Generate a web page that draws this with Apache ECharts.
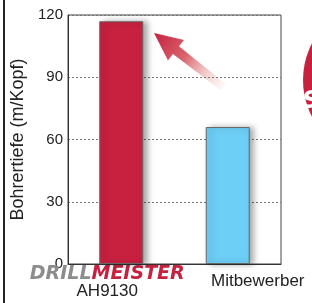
<!DOCTYPE html>
<html>
<head>
<meta charset="utf-8">
<script src="https://cdn.jsdelivr.net/npm/echarts@6/dist/echarts.min.js"></script>
<style>
  html, body { margin: 0; padding: 0; background: #fff; }
  #chart { width: 312px; height: 303px; }
</style>
</head>
<body>
<div id="chart"></div>
<script>
// data
var categories = ['AH9130', 'Mitbewerber'];
var depthValues = [117, 66];
var barColors = ['#c8213f', '#6dcff6'];
var yTicks = { min: 0, max: 120, step: 30 };

var chart = echarts.init(document.getElementById('chart'));

// gradient arrow pointing at the drillmeister bar (decoration)
var arrowFill = new echarts.graphic.LinearGradient(154, 33, 223, 87, [
  { offset: 0, color: '#c8213f' },
  { offset: 0.45, color: '#d9666f' },
  { offset: 1, color: 'rgba(245,215,210,0.2)' }
], true);

chart.setOption({
  animation: false,
  grid: {
    left: 68, right: 31, top: 15, bottom: 39,
    show: true, borderColor: '#444', borderWidth: 1
  },
  xAxis: {
    type: 'category',
    data: categories,
    axisLine: { lineStyle: { color: '#333' } },
    axisTick: { show: false },
    axisLabel: {
      interval: 0,
      hideOverlap: false,
      margin: 3,
      formatter: function (v, i) {
        if (i === 0) return '{da|DRILL}{mb|MEISTER}\n{code|' + v + '}';
        return '{comp|' + v + '}';
      },
      rich: {
        da: { fontFamily: 'DejaVu Sans', fontWeight: 'bold', fontStyle: 'italic', fontSize: 19, color: '#8c8c8c', lineHeight: 15 },
        mb: { fontFamily: 'DejaVu Sans', fontWeight: 'bold', fontStyle: 'italic', fontSize: 19, color: '#c8213f', lineHeight: 15, padding: [0, 28, 0, 0] },
        code: { fontFamily: 'Liberation Sans', fontSize: 17, color: '#222', lineHeight: 19, padding: [0, 28, 0, 0] },
        comp: { fontFamily: 'Liberation Sans', fontSize: 17, color: '#222', lineHeight: 19, padding: [9, 0, 0, 60] }
      }
    }
  },
  yAxis: {
    type: 'value',
    min: yTicks.min, max: yTicks.max, interval: yTicks.step,
    name: 'Bohrertiefe (m/Kopf)',
    nameLocation: 'middle',
    nameGap: 41,
    nameTextStyle: { fontFamily: 'Liberation Sans', fontSize: 18, color: '#222' },
    axisLine: { show: true, lineStyle: { color: '#333' } },
    axisTick: { show: false },
    axisLabel: { margin: 5, fontFamily: 'Liberation Sans', fontSize: 15, color: '#222' },
    splitLine: { lineStyle: { color: '#777', type: [2, 2] } }
  },
  series: [{
    type: 'bar',
    barWidth: 44,
    data: depthValues.map(function (v, i) {
      return { value: v, itemStyle: { color: barColors[i] } };
    }),
    itemStyle: {
      borderColor: '#666', borderWidth: 1,
      shadowColor: 'rgba(0,0,0,0.35)', shadowBlur: 6, shadowOffsetX: 4
    }
  }],
  graphic: [
    { type: 'rect', shape: { x: 3, y: 0, width: 2, height: 303 }, style: { fill: '#222' } },
    {
      type: 'polygon',
      shape: { points: [[154, 33], [184, 40], [179, 46.3], [225.8, 84.1], [220.8, 90.3], [172.9, 54.1], [168, 60.4]] },
      style: { fill: arrowFill }
    },
    { type: 'circle', shape: { cx: 383, cy: 80, r: 80 }, style: { fill: '#c8213f' } },
    { type: 'text', x: 302, y: 90, style: { text: 'S', fill: '#fff', font: 'italic bold 24px DejaVu Sans' } }
  ]
});
</script>
</body>
</html>
